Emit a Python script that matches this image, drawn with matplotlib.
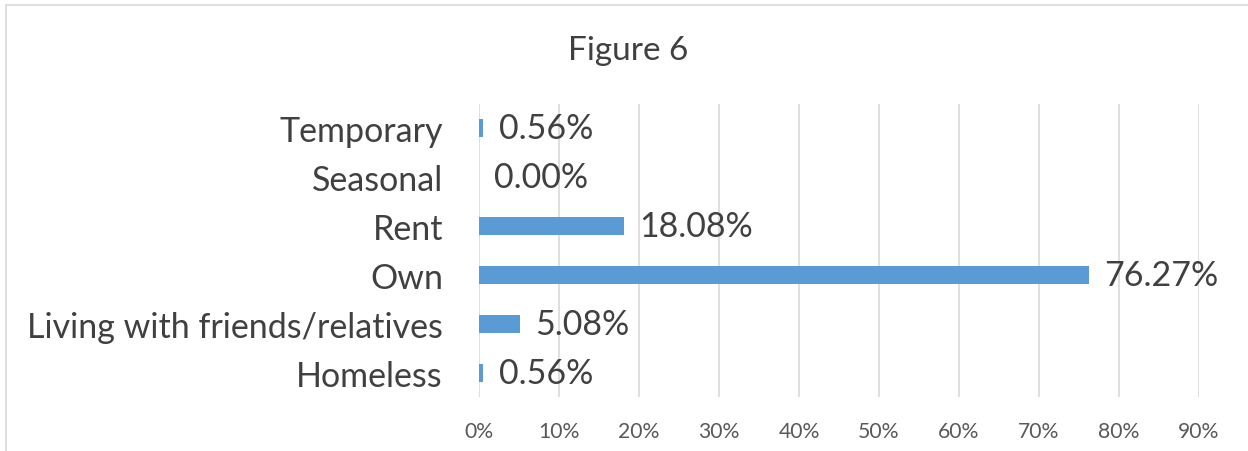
import matplotlib
matplotlib.use("Agg")
import matplotlib.pyplot as plt
from matplotlib.patches import Rectangle
from matplotlib.ticker import PercentFormatter

categories = ["Homeless", "Living with friends/relatives", "Own", "Rent", "Seasonal", "Temporary"]
shares = [0.56, 5.08, 76.27, 18.08, 0.00, 0.56]
tick_values = [0, 10, 20, 30, 40, 50, 60, 70, 80, 90]

bar_color = "#5B9BD5"
text_color = "#404040"
tick_color = "#595959"
grid_color = "#D9D9D9"

plt.rcParams["font.family"] = ["Lato", "DejaVu Sans"]

fig = plt.figure(figsize=(12.48, 4.52), dpi=100)
ax = fig.add_axes([479 / 1248, 1 - 398 / 452, 720 / 1248, 293 / 452])

ypos = list(range(len(categories)))
ax.barh(ypos, shares, height=0.37, color=bar_color, zorder=3)

# data labels to the right of each bar
for y, v in zip(ypos, shares):
    ax.text(v + 1.9, y, f"{v:.2f}%", va="center", ha="left",
            fontsize=24.5, color=text_color, zorder=4)

ax.set_xlim(0, 90)
ax.set_ylim(-0.5, len(categories) - 0.5)
ax.set_xticks(tick_values)
ax.xaxis.set_major_formatter(PercentFormatter(decimals=0))
ax.set_yticks(ypos)
ax.set_yticklabels(categories, fontsize=24.5, color=text_color)
ax.tick_params(axis="x", length=0, pad=17, labelsize=15.2, labelcolor=tick_color)
ax.tick_params(axis="y", length=0, pad=26)

ax.grid(axis="x", color=grid_color, linewidth=1.2, zorder=0)
for s in ax.spines.values():
    s.set_visible(False)

fig.text(628 / 1248, 1 - 51 / 452, "Figure 6", ha="center", va="center",
         fontsize=24, color=text_color)

# light chart border (right and bottom edges run off the picture)
fig.add_artist(Rectangle((6 / 1248, -0.1), 1.2, 1 - 6 / 452 + 0.1,
                         transform=fig.transFigure, fill=False,
                         edgecolor=grid_color, linewidth=1.2))

fig.savefig("out.png", dpi=100)
